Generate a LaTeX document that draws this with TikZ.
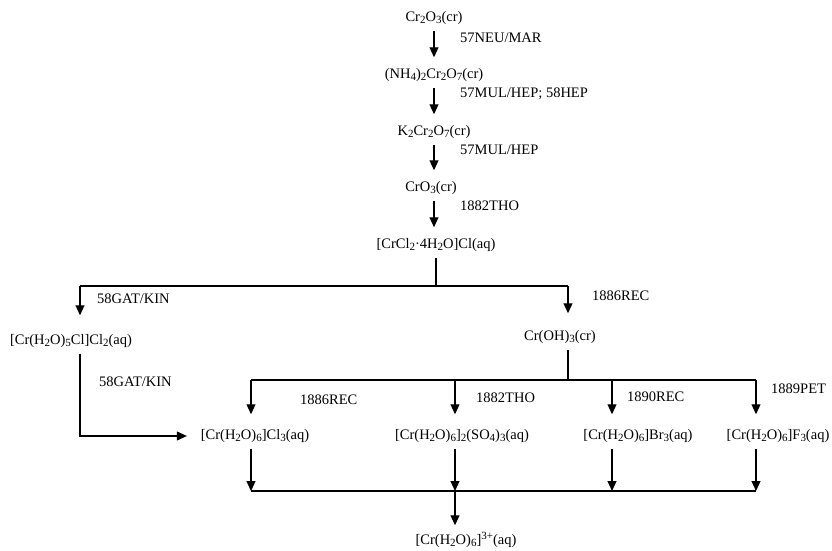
\documentclass[tikz,border=0pt]{standalone}
\usepackage{fontspec}
\setmainfont{Liberation Serif}
\usetikzlibrary{arrows.meta}
\newcommand{\sbs}[1]{\raisebox{-0.35ex}{\fontsize{11}{11}\selectfont #1}}
\newcommand{\sps}[1]{\raisebox{0.7ex}{\fontsize{11}{11}\selectfont #1}}
\tikzset{
  chem/.style={inner sep=0pt, outer xsep=2pt, outer ysep=6pt, text height=10pt, text depth=3.5pt, font=\fontsize{14.5}{16}\selectfont},
  lbl/.style={inner sep=0pt, anchor=west, font=\fontsize{14.5}{16}\selectfont},
  conn/.style={line width=1.1pt},
  arr/.style={line width=1.1pt, -{Triangle[length=10pt,width=9pt]}}
}
\begin{document}
\begin{tikzpicture}[x=1pt,y=-1pt]
\useasboundingbox (0,0) rectangle (832,550);
% main chain
\node[chem] (n1) at (434,18) {Cr\sbs{2}O\sbs{3}(cr)};
\node[chem] (n2) at (434,75) {(NH\sbs{4})\sbs{2}Cr\sbs{2}O\sbs{7}(cr)};
\node[chem] (n3) at (434,132) {K\sbs{2}Cr\sbs{2}O\sbs{7}(cr)};
\node[chem] (n4) at (431,188) {CrO\sbs{3}(cr)};
\node[chem] (n5) at (436,245) {[CrCl\sbs{2}·4H\sbs{2}O]Cl(aq)};
\node[chem, anchor=west] (n6) at (8,341) {[Cr(H\sbs{2}O)\sbs{5}Cl]Cl\sbs{2}(aq)};
\node[chem] (n7) at (560,337) {Cr(OH)\sbs{3}(cr)};
\node[chem] (p1) at (255,436) {[Cr(H\sbs{2}O)\sbs{6}]Cl\sbs{3}(aq)};
\node[chem] (p2) at (462,436) {[Cr(H\sbs{2}O)\sbs{6}]\sbs{2}(SO\sbs{4})\sbs{3}(aq)};
\node[chem] (p3) at (638,436) {[Cr(H\sbs{2}O)\sbs{6}]Br\sbs{3}(aq)};
\node[chem] (p4) at (778,436) {[Cr(H\sbs{2}O)\sbs{6}]F\sbs{3}(aq)};
\node[chem] (n8) at (466,541) {[Cr(H\sbs{2}O)\sbs{6}]\sps{3+}(aq)};
% labels
\node[lbl] (l1) at (460,38) {57NEU/MAR};
\node[lbl] (l2) at (460,94) {57MUL/HEP; 58HEP};
\node[lbl] (l3) at (460,150) {57MUL/HEP};
\node[lbl] (l4) at (460,206) {1882THO};
\node[lbl] (l5) at (97,299) {58GAT/KIN};
\node[lbl] (l6) at (592,296) {1886REC};
\node[lbl] (l7) at (99,382) {58GAT/KIN};
\node[lbl] (l8) at (300,400) {1886REC};
\node[lbl] (l9) at (476,398) {1882THO};
\node[lbl] (l10) at (627,397) {1890REC};
\node[lbl] (l11) at (771,389) {1889PET};
% junction coordinates
\coordinate (jL) at (80,286);
\coordinate (jR) at (568,286);
\coordinate (t1) at (251,380);
\coordinate (t2) at (455,380);
\coordinate (t3) at (612,380);
\coordinate (t4) at (756,380);
\coordinate (b1) at (251,491);
\coordinate (b2) at (455,491);
\coordinate (b3) at (612,491);
\coordinate (b4) at (756,491);
% chain arrows
\draw[arr, shorten >=5pt] (n1.south -| n1) -- (n2.north -| n1);
\draw[arr, shorten >=5pt] (n2.south -| n1) -- (n3.north -| n1);
\draw[arr, shorten >=5pt] (n3.south -| n1) -- (n4.north -| n1);
\draw[arr, shorten >=5pt] (n4.south -| n1) -- (n5.north -| n1);
% split after n5
\draw[conn] (n5.south) -- (n5.south |- jL);
\draw[conn] (jL) -- (jR);
\draw[arr, shorten >=13pt] (jL) -- (jL |- n6.north);
\draw[arr, shorten >=11pt] (jR) -- (jR |- n7.north);
% n6 to p1
\draw[arr, shorten >=12pt] (jL |- n6.south) -- (jL |- p1) -- (p1.west);
% Cr(OH)3 split
\draw[conn] (jR |- n7.south) -- (jR |- t1);
\draw[conn] (t1) -- (t4);
\draw[arr, shorten >=9pt] (t1) -- (t1 |- p1.north);
\draw[arr, shorten >=9pt] (t2) -- (t2 |- p2.north);
\draw[arr, shorten >=9pt] (t3) -- (t3 |- p3.north);
\draw[arr, shorten >=9pt] (t4) -- (t4 |- p4.north);
% products to bottom bus
\draw[arr] (b1 |- p1.south) -- (b1);
\draw[arr] (b2 |- p2.south) -- (b2);
\draw[arr] (b3 |- p3.south) -- (b3);
\draw[arr] (b4 |- p4.south) -- (b4);
\draw[conn] (b1) -- (b4);
\draw[arr, shorten >=3pt] (b2) -- (b2 |- n8.north);
\end{tikzpicture}
\end{document}
